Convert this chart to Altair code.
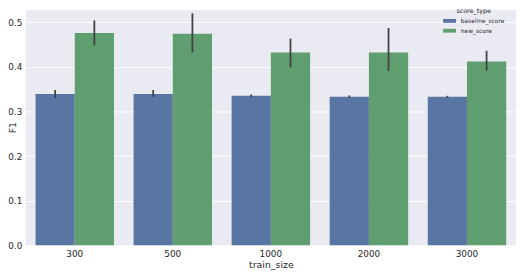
import altair as alt
import pandas as pd

train_size = ["300", "500", "1000", "2000", "3000"]
score_types = ["baseline_score", "new_score"]

baseline_mean = [0.339, 0.339, 0.335, 0.333, 0.333]
baseline_lo = [0.330, 0.333, 0.332, 0.330, 0.331]
baseline_hi = [0.348, 0.348, 0.338, 0.336, 0.335]

new_mean = [0.476, 0.474, 0.432, 0.432, 0.412]
new_lo = [0.448, 0.432, 0.399, 0.391, 0.392]
new_hi = [0.504, 0.520, 0.463, 0.487, 0.436]

rows = []
for i, t in enumerate(train_size):
    rows.append(dict(train_size=t, score_type=score_types[0], F1=baseline_mean[i],
                     lo=baseline_lo[i], hi=baseline_hi[i]))
    rows.append(dict(train_size=t, score_type=score_types[1], F1=new_mean[i],
                     lo=new_lo[i], hi=new_hi[i]))
df = pd.DataFrame(rows)

FONT = "DejaVu Sans"
TXT = "#262626"

x_enc = alt.X(
    "train_size:N", sort=train_size,
    scale=alt.Scale(paddingInner=0.2, paddingOuter=0.1),
    axis=alt.Axis(labelAngle=0, labelPadding=4, titlePadding=2, grid=False,
                  domain=False, ticks=False, labelFontSize=9, titleFontSize=9.5),
    title="train_size",
)
xoff = alt.XOffset("score_type:N", sort=score_types, scale=alt.Scale(paddingInner=0, paddingOuter=0))

y_enc = alt.Y(
    "F1:Q",
    scale=alt.Scale(domain=[0, 0.5272], nice=False, zero=True),
    axis=alt.Axis(values=[0, 0.1, 0.2, 0.3, 0.4, 0.5], format=".1f", labelPadding=4,
                  domain=False, ticks=False, grid=True, gridColor="white", gridWidth=1,
                  labelFontSize=9, titleFontSize=9.5, titleX=-8, titleY=119),
    title="F1",
)

bars = alt.Chart(df).mark_bar(stroke=None, strokeWidth=0).encode(
    x=x_enc,
    xOffset=xoff,
    y=y_enc,
    color=alt.Color(
        "score_type:N", sort=score_types,
        scale=alt.Scale(domain=score_types, range=["#5975a4", "#5f9e6e"]),
        legend=alt.Legend(
            orient="none", legendX=424, legendY=-2, title="score_type",
            titleFontSize=6.5, titleFontWeight="normal", titleColor=TXT, titleFont=FONT,
            titleAnchor="middle", titlePadding=0,
            labelFontSize=6, labelColor=TXT, labelFont=FONT, labelOffset=5,
            symbolType="M-1,-0.3H1V0.3H-1Z", symbolSize=169, symbolStrokeWidth=0,
            symbolOpacity=1, rowPadding=0,
        ),
    ),
)

errs = alt.Chart(df).mark_rule(color="#424242", strokeWidth=1.8).encode(
    x=alt.X("train_size:N", sort=train_size),
    xOffset=xoff,
    y="lo:Q",
    y2="hi:Q",
)

chart = alt.layer(bars, errs).properties(
    width=498, height=239,
    autosize=alt.AutoSizeParams(type="none"),
    padding={"left": 18, "top": 0, "right": 0, "bottom": 25},
    background="white",
).configure_view(
    fill="#EAEAF2", stroke=None,
).configure_axis(
    labelFont=FONT, titleFont=FONT, labelColor=TXT, titleColor=TXT,
    titleFontWeight="normal",
)

chart.save("out.html", embed_options={"renderer": "svg", "actions": False})
